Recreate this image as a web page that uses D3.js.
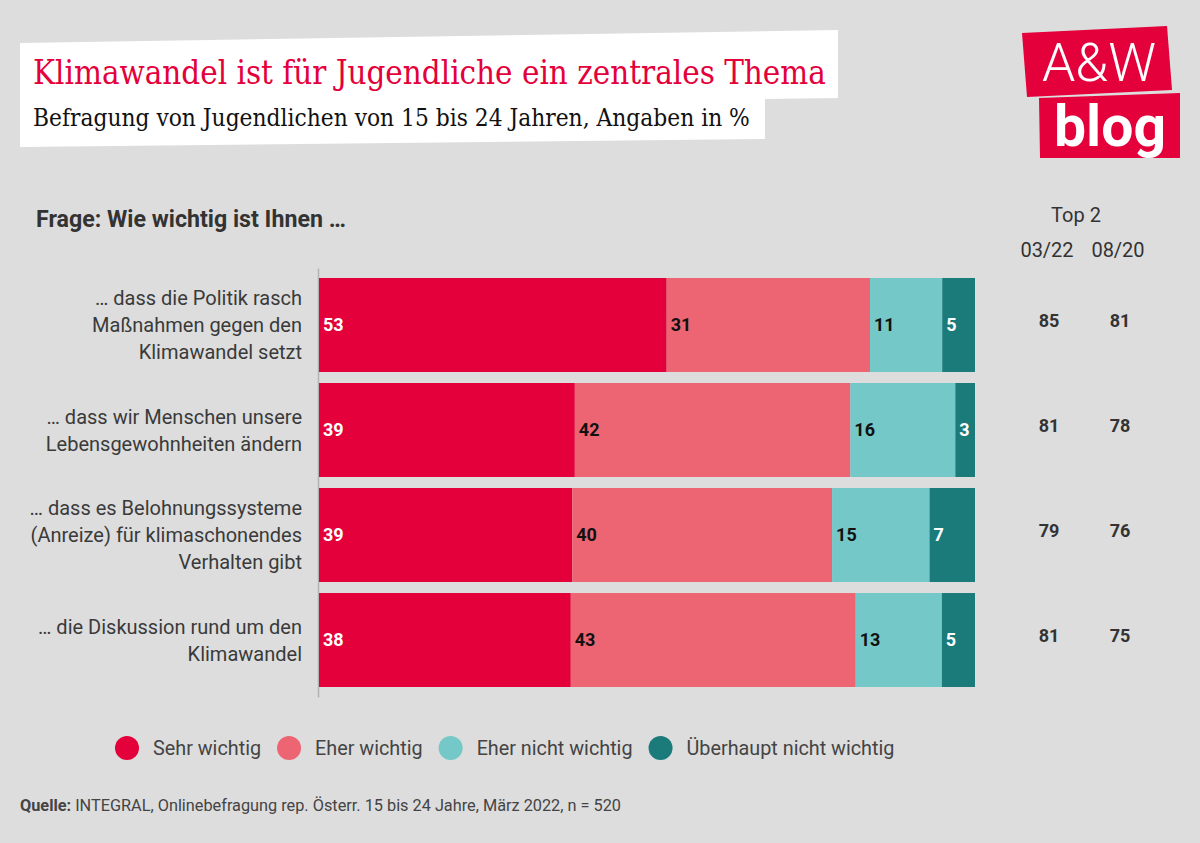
<!DOCTYPE html>
<html><head><meta charset="utf-8">
<script src="https://cdn.jsdelivr.net/npm/d3@7/dist/d3.min.js"></script>
<style>body{margin:0;background:#dddddd;} svg{display:block}</style>
</head><body>
<svg id="c" width="1200" height="843"></svg>
<script>
// ---------- DATA ----------
const titleText = "Klimawandel ist für Jugendliche ein zentrales Thema";
const subtitleText = "Befragung von Jugendlichen von 15 bis 24 Jahren, Angaben in %";
const questionText = "Frage: Wie wichtig ist Ihnen …";
const categories = [
  "… dass die Politik rasch|Maßnahmen gegen den|Klimawandel setzt",
  "… dass wir Menschen unsere|Lebensgewohnheiten ändern",
  "… dass es Belohnungssysteme|(Anreize) für klimaschonendes|Verhalten gibt",
  "… die Diskussion rund um den|Klimawandel"
];
const seriesNames = ["Sehr wichtig", "Eher wichtig", "Eher nicht wichtig", "Überhaupt nicht wichtig"];
const sehrWichtig = [53, 39, 39, 38];
const eherWichtig = [31, 42, 40, 43];
const eherNichtWichtig = [11, 16, 15, 13];
const ueberhauptNichtWichtig = [5, 3, 7, 5];
const top2Title = "Top 2";
const top2Periods = ["03/22", "08/20"];
const top2_0322 = [85, 81, 79, 81];
const top2_0820 = [81, 78, 76, 75];
const sourceLabel = "Quelle:";
const sourceText = " INTEGRAL, Onlinebefragung rep. Österr. 15 bis 24 Jahre, März 2022, n = 520";

// ---------- STYLE ----------
const colors = ["#e4003a", "#ed6573", "#74c8c8", "#1b7b7b"];
const labelColors = ["#ffffff", "#111111", "#111111", "#ffffff"];
const SANS = "Roboto, 'Noto Sans', sans-serif";
const SERIF = "'DejaVu Serif Condensed', 'DejaVu Serif', serif";

const svg = d3.select("#c");
svg.append("rect").attr("width", 1200).attr("height", 843).attr("fill", "#dddddd");

function fit(sel, target) {
  const w = sel.node().getComputedTextLength();
  const fs = parseFloat(sel.attr("font-size"));
  sel.attr("font-size", (fs * target / w).toFixed(2));
  return fs * target / w;
}

// ---------- HEADER ----------
svg.append("polygon")
  .attr("points", "20,43 838,30 838,98 765,99 765,139 20,147")
  .attr("fill", "#ffffff");
const t = svg.append("text").attr("x", 33).attr("y", 84)
  .attr("font-family", SERIF).attr("font-stretch", "condensed")
  .attr("font-size", 33).attr("fill", "#e4003a").text(titleText);
fit(t, 793);
const st = svg.append("text").attr("x", 33).attr("y", 126)
  .attr("font-family", SERIF).attr("font-stretch", "condensed")
  .attr("font-size", 25).attr("fill", "#111").text(subtitleText);
fit(st, 717);

// logo
svg.append("polygon").attr("points", "1022,33 1167,26 1172,90 1027,97").attr("fill", "#e4003a");
svg.append("polygon").attr("points", "1039,98 1180,93 1180,158 1040,158").attr("fill", "#e4003a");
const aw = svg.append("text").attr("x", 1042).attr("y", 81)
  .attr("font-family", SANS).attr("font-weight", 300).attr("font-size", 54)
  .attr("fill", "#fff").text("A&W");
fit(aw, 114);
const bl = svg.append("text").attr("x", 1054).attr("y", 146)
  .attr("font-family", SANS).attr("font-weight", 700).attr("font-size", 52)
  .attr("fill", "#fff").text("blog");
fit(bl, 112);

// question
const q = svg.append("text").attr("x", 36).attr("y", 227)
  .attr("font-family", SANS).attr("font-weight", 700).attr("font-size", 20)
  .attr("fill", "#333").text(questionText);
fit(q, 310);

// ---------- CHART ----------
const rows = categories.map((c, i) => ({
  idx: i,
  [seriesNames[0]]: sehrWichtig[i],
  [seriesNames[1]]: eherWichtig[i],
  [seriesNames[2]]: eherNichtWichtig[i],
  [seriesNames[3]]: ueberhauptNichtWichtig[i]
}));
const stack = d3.stack().keys(seriesNames).offset(d3.stackOffsetExpand);
const stacked = stack(rows);

const x = d3.scaleLinear().domain([0, 1]).range([319, 975]);
const y = d3.scaleBand().domain(d3.range(categories.length)).range([278, 687]).paddingInner(0.105);

// axis line
const yAxisScale = d3.scaleBand().domain(y.domain()).range([268, 697]);
svg.append("g").attr("transform", "translate(318,0)")
  .call(d3.axisLeft(yAxisScale).tickSize(0).tickFormat(""))
  .call(g => g.select(".domain").attr("stroke", "#b3b3b3").attr("stroke-width", 1.5));

const layers = svg.append("g").selectAll("g").data(stacked).join("g")
  .attr("fill", (d, i) => colors[i]);
layers.selectAll("rect").data(d => d).join("rect")
  .attr("x", d => x(d[0]))
  .attr("y", d => y(d.data.idx))
  .attr("width", d => x(d[1]) - x(d[0]))
  .attr("height", y.bandwidth());

const valueLabels = svg.append("g");
stacked.forEach((layer, si) => {
  valueLabels.selectAll(null).data(layer).join("text")
    .attr("x", d => x(d[0]) + 4)
    .attr("y", d => y(d.data.idx) + y.bandwidth() / 2)
    .attr("dy", "0.36em")
    .attr("font-family", SANS).attr("font-weight", 700).attr("font-size", 18)
    .attr("fill", labelColors[si])
    .text(d => d.data[layer.key]);
});

// category labels
const catG = svg.append("g");
const probe = catG.append("text").attr("font-family", SANS).attr("font-size", 19).text(categories[0].split("|")[0]);
const catSize = 19 * 207 / probe.node().getComputedTextLength();
probe.remove();
categories.forEach((c, i) => {
  const lines = c.split("|");
  const cy = y(i) + y.bandwidth() / 2;
  const lh = 27;
  catG.append("text")
    .attr("text-anchor", "end")
    .attr("font-family", SANS).attr("font-size", catSize.toFixed(2)).attr("fill", "#3a3a3a")
    .selectAll("tspan").data(lines).join("tspan")
    .attr("x", 302)
    .attr("y", (d, j) => cy + (j - (lines.length - 1) / 2) * lh)
    .attr("dy", "0.36em")
    .text(d => d);
});

// Top 2 columns
const colX = d3.scalePoint().domain(top2Periods).range([1047, 1118]);
svg.append("text").attr("x", 1076).attr("y", 222).attr("text-anchor", "middle")
  .attr("font-family", SANS).attr("font-size", 20).attr("fill", "#333").text(top2Title);
svg.selectAll(null).data(top2Periods).join("text")
  .attr("x", d => colX(d)).attr("y", 257).attr("text-anchor", "middle")
  .attr("font-family", SANS).attr("font-size", 20).attr("fill", "#333").text(d => d);
[top2_0322, top2_0820].forEach((vals, k) => {
  svg.selectAll(null).data(vals).join("text")
    .attr("x", colX(top2Periods[k]) + 2)
    .attr("y", (d, i) => y(i) + y.bandwidth() / 2)
    .attr("dy", "0.1em")
    .attr("text-anchor", "middle")
    .attr("font-family", SANS).attr("font-weight", 700).attr("font-size", 18)
    .attr("fill", "#333").text(d => d);
});

// legend
const legend = svg.append("g");
let lx = 115;
seriesNames.forEach((n, i) => {
  legend.append("circle").attr("cx", lx + 12).attr("cy", 748).attr("r", 12).attr("fill", colors[i]);
  const tx = legend.append("text").attr("x", lx + 38).attr("y", 748).attr("dy", "0.36em")
    .attr("font-family", SANS).attr("font-size", 19.8).attr("fill", "#444").text(n);
  lx = lx + 38 + tx.node().getComputedTextLength() + 16;
});

// source
const src = svg.append("text").attr("x", 20).attr("y", 811)
  .attr("font-family", SANS).attr("font-size", 16.3).attr("fill", "#444");
src.append("tspan").attr("font-weight", 700).text(sourceLabel);
src.append("tspan").text(sourceText);
</script>
</body></html>
